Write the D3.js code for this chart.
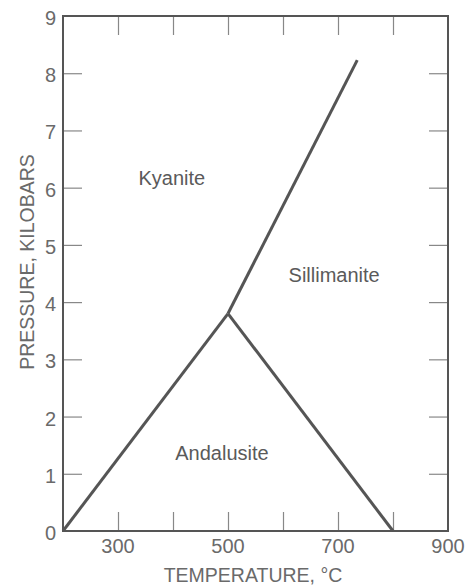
<!DOCTYPE html>
<html>
<head>
    <meta charset="utf-8">
    <title>Al2SiO5 phase diagram</title>
    <style>
        body { margin: 0; background: #fff; }
        text { font-family: "Liberation Sans", Arial, sans-serif; }
    </style>
</head>
<body>
    <script src="https://d3js.org/d3.v7.min.js"></script>
    <script>
    // phase boundaries (temperature °C, pressure kbar)
    const kyaAnd = [[200, 0], [500, 3.8]];
    const kyaSil = [[500, 3.8], [735, 8.23]];
    const andSil = [[500, 3.8], [800, 0]];
    const xTicks = [300, 400, 500, 600, 700, 800];
    const xLabels = [300, 500, 700, 900];
    const yTicks = [1, 2, 3, 4, 5, 6, 7, 8];
    const yLabels = [0, 1, 2, 3, 4, 5, 6, 7, 8, 9];
    const fields = [
        {name: "Kyanite", t: 398, p: 6.05},
        {name: "Sillimanite", t: 693, p: 4.35},
        {name: "Andalusite", t: 489, p: 1.24}
    ];

    const width = 469, height = 586;
    const margin = {top: 16, right: 21, bottom: 55, left: 63};

    var svg = d3.select("body").append("svg")
        .attr("width", width)
        .attr("height", height);

    var x = d3.scaleLinear().domain([200, 900]).range([margin.left, width - margin.right]);
    var y = d3.scaleLinear().domain([0, 9]).range([height - margin.bottom, margin.top]);

    const tickLen = 19;
    const gray = "#6a6a6a";

    // inner ticks on all four sides
    svg.append("g").attr("transform", "translate(0," + y(0) + ")")
        .call(d3.axisBottom(x).tickValues(xTicks).tickSize(-tickLen).tickFormat(""))
        .call(g => g.select(".domain").remove());
    svg.append("g").attr("transform", "translate(0," + y(9) + ")")
        .call(d3.axisTop(x).tickValues(xTicks).tickSize(-tickLen).tickFormat(""))
        .call(g => g.select(".domain").remove());
    svg.append("g").attr("transform", "translate(" + x(200) + ",0)")
        .call(d3.axisLeft(y).tickValues(yTicks).tickSize(-tickLen).tickFormat(""))
        .call(g => g.select(".domain").remove());
    svg.append("g").attr("transform", "translate(" + x(900) + ",0)")
        .call(d3.axisRight(y).tickValues(yTicks).tickSize(-tickLen).tickFormat(""))
        .call(g => g.select(".domain").remove());
    svg.selectAll(".tick line").attr("stroke", "#888").attr("stroke-width", 1.2);

    // frame
    svg.append("rect")
        .attr("x", x(200)).attr("y", y(9))
        .attr("width", x(900) - x(200)).attr("height", y(0) - y(9))
        .attr("fill", "none").attr("stroke", "#555").attr("stroke-width", 2);

    // tick labels
    svg.selectAll(".xlab").data(xLabels).enter().append("text")
        .attr("x", d => x(d)).attr("y", y(0) + 22)
        .attr("text-anchor", "middle")
        .attr("font-size", 20).attr("fill", gray)
        .text(d => d);
    svg.selectAll(".ylab").data(yLabels).enter().append("text")
        .attr("x", x(200) - 7).attr("y", d => y(d) + 9)
        .attr("text-anchor", "end")
        .attr("font-size", 20).attr("fill", gray)
        .text(d => d);

    // axis titles
    svg.append("text")
        .attr("x", 253).attr("y", 582)
        .attr("text-anchor", "middle")
        .attr("font-size", 19.5).attr("fill", gray)
        .text("TEMPERATURE, °C");
    svg.append("text")
        .attr("transform", "translate(34,262) rotate(-90)")
        .attr("text-anchor", "middle")
        .attr("font-size", 19.5).attr("fill", gray)
        .text("PRESSURE, KILOBARS");

    // boundaries
    var line = d3.line().x(d => x(d[0])).y(d => y(d[1]));
    [kyaAnd, kyaSil, andSil].forEach(function(seg) {
        svg.append("path")
            .attr("d", line(seg))
            .attr("fill", "none")
            .attr("stroke", "#555")
            .attr("stroke-width", 3);
    });

    // field names
    svg.selectAll(".field").data(fields).enter().append("text")
        .attr("x", d => x(d.t)).attr("y", d => y(d.p))
        .attr("text-anchor", "middle")
        .attr("font-size", 20).attr("fill", "#5a5a5a")
        .text(d => d.name);
    </script>
</body>
</html>
